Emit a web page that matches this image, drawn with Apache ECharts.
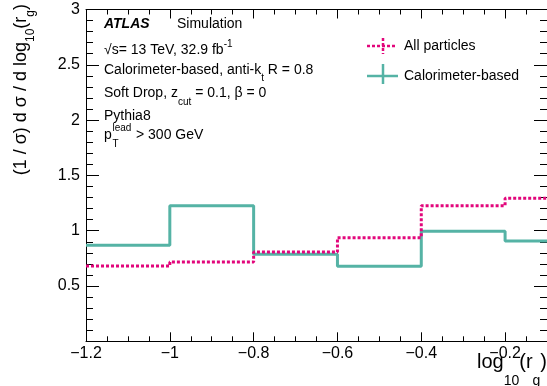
<!DOCTYPE html>
<html>
<head>
<meta charset="utf-8">
<script src="https://cdn.jsdelivr.net/npm/echarts@6/dist/echarts.min.js"></script>
<style>
  html, body { margin: 0; padding: 0; background: #fff; }
  #chart { width: 547px; height: 386px; }
</style>
</head>
<body>
<div id="chart"></div>
<script>
// bin edges in log10(rg), last bin runs past the visible range
const binEdges = [-1.2, -1.0, -0.8, -0.6, -0.4, -0.2, 0.0]
const allParticles = [0.68, 0.717, 0.807, 0.937, 1.226, 1.293]
const caloBased = [0.868, 1.226, 0.787, 0.678, 0.995, 0.907]
const xTicks = { min: -1.2, max: -0.1, step: 0.2 }
const yTicks = { min: 0, max: 3, step: 0.5 }

const pink = '#e2067b'
const teal = '#55b3a5'
const font = '"Liberation Sans", Arial, Helvetica, sans-serif'

// step histogram: one point per edge, last value repeated at the closing edge
const toSteps = vals => binEdges.map((e, i) => [e, vals[Math.min(i, vals.length - 1)]])

const fmt = v => {
  if (v === 0) return ''
  return String(Math.round(v * 10) / 10).replace('-', '\u2212')
}

const axisCommon = {
  axisLine: { show: true, onZero: false, lineStyle: { color: '#000', width: 1 } },
  splitLine: { show: false },
  minorSplitLine: { show: false }
}

// small helper for label lines with sub/superscripts (offset = (lh - 10) / 2)
const labelRich = (lh) => ({
  n: { fontFamily: font, fontSize: 14, color: '#000', verticalAlign: 'middle', lineHeight: lh },
  sub: { fontFamily: font, fontSize: 10, color: '#000', verticalAlign: 'bottom', lineHeight: 10 },
  sup: { fontFamily: font, fontSize: 10, color: '#000', verticalAlign: 'top', lineHeight: 10 }
})

const chart = echarts.init(document.getElementById('chart'), null, { renderer: 'canvas' })

chart.setOption({
  animation: false,
  backgroundColor: '#fff',
  grid: { left: 86, right: 0, top: 9.5, bottom: 44.7, containLabel: false },
  xAxis: [
    {
      ...axisCommon,
      type: 'value', min: xTicks.min, max: xTicks.max, interval: xTicks.step,
      position: 'bottom',
      axisTick: { show: true, inside: true, length: 9, lineStyle: { color: '#000' } },
      minorTick: { show: true, splitNumber: 4, length: 5, lineStyle: { color: '#000' } },
      axisLabel: {
        show: true, margin: 4, formatter: fmt, showMaxLabel: false,
        fontFamily: font, fontSize: 16, color: '#000'
      }
    },
    {
      ...axisCommon,
      type: 'value', min: xTicks.min, max: xTicks.max, interval: xTicks.step,
      position: 'top',
      axisTick: { show: true, inside: true, length: 9, lineStyle: { color: '#000' } },
      minorTick: { show: true, splitNumber: 4, length: 5, lineStyle: { color: '#000' } },
      axisLabel: { show: false }
    }
  ],
  yAxis: [
    {
      ...axisCommon,
      type: 'value', min: yTicks.min, max: yTicks.max, interval: yTicks.step,
      position: 'left',
      axisTick: { show: true, inside: true, length: 13, lineStyle: { color: '#000' } },
      minorTick: { show: true, splitNumber: 5, length: 7, lineStyle: { color: '#000' } },
      axisLabel: {
        show: true, margin: 6, formatter: fmt,
        fontFamily: font, fontSize: 16, color: '#000'
      }
    },
    {
      ...axisCommon,
      type: 'value', min: yTicks.min, max: yTicks.max, interval: yTicks.step,
      position: 'right',
      axisTick: { show: true, inside: true, length: 13, lineStyle: { color: '#000' } },
      minorTick: { show: true, splitNumber: 5, length: 7, lineStyle: { color: '#000' } },
      axisLabel: { show: false }
    }
  ],
  series: [
    {
      name: 'Calorimeter-based',
      type: 'line', step: 'end', showSymbol: false, clip: true,
      xAxisIndex: 0, yAxisIndex: 0,
      data: toSteps(caloBased),
      lineStyle: { color: teal, width: 3 }
    },
    {
      name: 'All particles',
      type: 'line', step: 'end', showSymbol: false, clip: true,
      xAxisIndex: 0, yAxisIndex: 0,
      data: toSteps(allParticles),
      lineStyle: { color: pink, width: 3, type: [3, 2] }
    }
  ],
  graphic: [
    // ATLAS label block
    { type: 'text', x: 104, y: 24, style: { text: 'ATLAS', font: 'italic bold 14px ' + font, fill: '#000', verticalAlign: 'middle' } },
    { type: 'text', x: 177, y: 24, style: { text: 'Simulation', font: '14px ' + font, fill: '#000', verticalAlign: 'middle' } },
    {
      type: 'text', x: 104, y: 50,
      style: { text: '{n|\u221As= 13 TeV, 32.9 fb}{sup|-1}', verticalAlign: 'middle', rich: labelRich(21) }
    },
    {
      type: 'text', x: 104, y: 70,
      style: { text: '{n|Calorimeter-based, anti-k}{sub|t}{n| R = 0.8}', verticalAlign: 'middle', rich: labelRich(26) }
    },
    {
      type: 'text', x: 104, y: 93,
      style: { text: '{n|Soft Drop, z}{sub|cut}{n| = 0.1, \u03B2 = 0}', verticalAlign: 'middle', rich: labelRich(28) }
    },
    { type: 'text', x: 104, y: 116, style: { text: 'Pythia8', font: '14px ' + font, fill: '#000', verticalAlign: 'middle' } },
    { type: 'text', x: 104, y: 135, style: { text: 'p', font: '14px ' + font, fill: '#000', verticalAlign: 'middle' } },
    { type: 'text', x: 112.5, y: 128, style: { text: 'lead', font: '10px ' + font, fill: '#000', verticalAlign: 'middle' } },
    { type: 'text', x: 112.5, y: 144, style: { text: 'T', font: '10px ' + font, fill: '#000', verticalAlign: 'middle' } },
    { type: 'text', x: 136, y: 135, style: { text: '> 300 GeV', font: '14px ' + font, fill: '#000', verticalAlign: 'middle' } },

    // legend
    { type: 'line', shape: { x1: 367, y1: 46, x2: 397, y2: 46 }, style: { stroke: pink, lineWidth: 2.5, lineDash: [3, 2] } },
    { type: 'line', shape: { x1: 383, y1: 38, x2: 383, y2: 54 }, style: { stroke: pink, lineWidth: 2.5, lineDash: [3, 2] } },
    { type: 'text', x: 404, y: 46, style: { text: 'All particles', font: '14px ' + font, fill: '#000', verticalAlign: 'middle' } },
    { type: 'line', shape: { x1: 367, y1: 76, x2: 398, y2: 76 }, style: { stroke: teal, lineWidth: 2.5 } },
    { type: 'line', shape: { x1: 383, y1: 64, x2: 383, y2: 84 }, style: { stroke: teal, lineWidth: 2.5 } },
    { type: 'text', x: 404, y: 76, style: { text: 'Calorimeter-based', font: '14px ' + font, fill: '#000', verticalAlign: 'middle' } },

    // x axis title
    {
      type: 'text', x: 547, y: 362,
      style: {
        text: '{n|log}{sub|10}{n|(r}{sub|g}{n|)}', align: 'right', verticalAlign: 'middle',
        rich: {
          n: { fontFamily: font, fontSize: 20, color: '#000', verticalAlign: 'middle', lineHeight: 53 },
          sub: { fontFamily: font, fontSize: 14, color: '#000', verticalAlign: 'bottom', lineHeight: 14 }
        }
      }
    },
    // y axis title, rotated
    {
      type: 'text', x: 21, y: 4, rotation: Math.PI / 2,
      style: {
        text: '{n|(1 / \u03C3) d \u03C3 / d log}{sub|10}{n|(r}{sub|g}{n|)}', align: 'right', verticalAlign: 'middle',
        rich: {
          n: { fontFamily: font, fontSize: 18, color: '#000', verticalAlign: 'middle', lineHeight: 32 },
          sub: { fontFamily: font, fontSize: 12, color: '#000', verticalAlign: 'bottom', lineHeight: 12 }
        }
      }
    }
  ]
})
</script>
</body>
</html>
